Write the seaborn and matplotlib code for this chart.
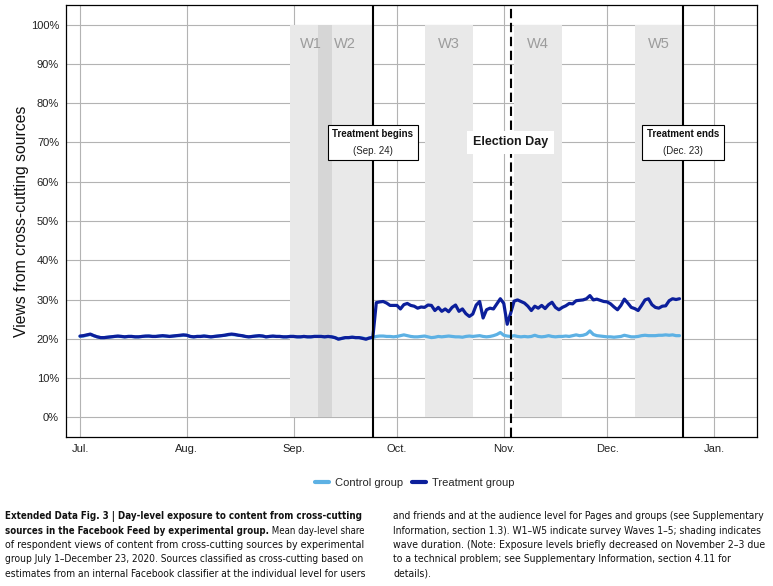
import numpy as np
import pandas as pd
import matplotlib
matplotlib.use("Agg")
import matplotlib.pyplot as plt
from matplotlib.lines import Line2D
from matplotlib.patches import Rectangle
from matplotlib.ticker import FuncFormatter
import seaborn as sns

# ---------------- data ----------------
start_date = "2020-07-01"

control = [
    20.6, 20.7, 20.9, 21.1, 20.8, 20.5, 20.3, 20.3, 20.4, 20.5,
    20.6, 20.6, 20.6, 20.5, 20.6, 20.6, 20.5, 20.5, 20.6, 20.6,
    20.7, 20.6, 20.6, 20.7, 20.7, 20.7, 20.6, 20.7, 20.8, 20.8,
    20.9, 20.9, 20.6, 20.5, 20.6, 20.6, 20.7, 20.6, 20.5, 20.6,
    20.7, 20.8, 20.9, 21.0, 21.1, 21.0, 20.9, 20.8, 20.6, 20.5,
    20.6, 20.7, 20.7, 20.7, 20.5, 20.6, 20.6, 20.6, 20.6, 20.5,
    20.5, 20.6, 20.6, 20.5, 20.5, 20.6, 20.5, 20.5, 20.6, 20.6,
    20.6, 20.5, 20.6, 20.5, 20.3, 20.0, 20.1, 20.3, 20.3, 20.4,
    20.3, 20.3, 20.2, 20.0, 20.2,
    20.3, 20.6, 20.7, 20.7, 20.6, 20.6, 20.5, 20.6, 20.8, 21.0,
    20.8, 20.6, 20.5, 20.5, 20.6, 20.7, 20.5, 20.3, 20.4, 20.6,
    20.5, 20.6, 20.7, 20.6, 20.5, 20.5, 20.4, 20.6, 20.7, 20.6,
    20.7, 20.8, 20.6, 20.5, 20.6, 20.8, 21.1, 21.6, 20.9, 20.7,
    20.6, 20.8, 20.6, 20.5, 20.6, 20.5, 20.6, 20.9, 20.6, 20.5,
    20.6, 20.8, 20.6, 20.5, 20.6, 20.6, 20.7, 20.6, 20.8, 21.0,
    20.8, 20.9, 21.2, 22.0, 21.1, 20.8, 20.7, 20.6, 20.5, 20.5,
    20.4, 20.5, 20.6, 20.9, 20.7, 20.5, 20.5, 20.6, 20.8, 20.9,
    20.8, 20.8, 20.8, 20.9, 20.9, 21.0, 20.9, 21.0, 20.8, 20.8,
]

treatment = [
    20.7, 20.8, 21.0, 21.2, 20.8, 20.5, 20.3, 20.3, 20.4, 20.5,
    20.6, 20.7, 20.6, 20.5, 20.6, 20.6, 20.5, 20.5, 20.6, 20.7,
    20.7, 20.6, 20.6, 20.7, 20.8, 20.7, 20.6, 20.7, 20.8, 20.9,
    21.0, 20.9, 20.6, 20.5, 20.6, 20.6, 20.7, 20.6, 20.5, 20.6,
    20.7, 20.8, 20.9, 21.1, 21.2, 21.1, 20.9, 20.8, 20.6, 20.5,
    20.6, 20.7, 20.8, 20.7, 20.5, 20.6, 20.7, 20.6, 20.6, 20.5,
    20.5, 20.6, 20.6, 20.5, 20.5, 20.6, 20.5, 20.5, 20.6, 20.6,
    20.6, 20.5, 20.6, 20.5, 20.3, 19.9, 20.1, 20.3, 20.3, 20.4,
    20.3, 20.3, 20.1, 19.9, 20.2,
    20.4, 29.2, 29.4, 29.5, 29.1, 28.5, 28.5, 28.5, 27.6, 28.7,
    29.0, 28.5, 28.3, 27.8, 28.1, 28.0, 28.6, 28.5, 27.2, 28.0,
    27.0, 27.6, 26.9, 28.0, 28.6, 27.0, 27.6, 26.4, 25.7, 26.3,
    28.6, 29.5, 25.3, 27.4, 27.8, 27.6, 28.9, 30.2, 29.0, 23.7,
    26.5, 29.6, 29.9, 29.5, 29.1, 28.3, 27.2, 28.3, 27.8, 28.5,
    27.7, 28.7, 29.3, 28.0, 27.4, 28.0, 28.4, 29.0, 28.9, 29.7,
    29.8, 29.9, 30.2, 31.0, 29.9, 30.1, 29.8, 29.5, 29.4, 28.9,
    28.1, 27.4, 28.5, 30.1, 29.1, 28.0, 27.7, 27.2, 28.5, 29.9,
    30.2, 28.7, 28.0, 27.8, 28.3, 28.4, 29.7, 30.2, 30.0, 30.2,
]

group_labels = ["Control group", "Treatment group"]
group_colors = ["#5db1e4", "#0c1f9b"]

wave_names = ["W1", "W2", "W3", "W4", "W5"]
wave_starts = ["2020-08-31", "2020-09-08", "2020-10-09", "2020-11-04", "2020-12-09"]
wave_ends = ["2020-09-12", "2020-09-24", "2020-10-23", "2020-11-18", "2020-12-23"]

treatment_begin = "2020-09-24"
election_day = "2020-11-03"
treatment_end = "2020-12-23"

month_ticks = ["2020-07-01", "2020-08-01", "2020-09-01", "2020-10-01",
               "2020-11-01", "2020-12-01", "2021-01-01"]
month_labels = ["Jul.", "Aug.", "Sep.", "Oct.", "Nov.", "Dec.", "Jan."]
y_ticks = [0, 10, 20, 30, 40, 50, 60, 70, 80, 90, 100]

caption_left = [
    "Extended Data Fig. 3 | Day-level exposure to content from cross-cutting",
    "sources in the Facebook Feed by experimental group.",
    "of respondent views of content from cross-cutting sources by experimental",
    "group July 1\u2013December 23, 2020. Sources classified as cross-cutting based on",
    "estimates from an internal Facebook classifier at the individual level for users",
]
caption_left_tail = " Mean day-level share"
caption_right = [
    "and friends and at the audience level for Pages and groups (see Supplementary",
    "Information, section 1.3). W1\u2013W5 indicate survey Waves 1\u20135; shading indicates",
    "wave duration. (Note: Exposure levels briefly decreased on November 2\u20133 due",
    "to a technical problem; see Supplementary Information, section 4.11 for",
    "details).",
]

# ---------------- figure ----------------
sns.set_style("white")
plt.rcParams["font.family"] = ["Liberation Sans", "DejaVu Sans"]

dates = pd.date_range(start_date, periods=len(control), freq="D")
df = pd.DataFrame({
    "date": list(dates) + list(dates),
    "value": control + treatment,
    "group": [group_labels[0]] * len(control) + [group_labels[1]] * len(treatment),
})

fig = plt.figure(figsize=(7.73, 5.86), dpi=100)
ax = fig.add_axes([0.0854, 0.2543, 0.8939, 0.7372])
ax.set_axisbelow(True)
ax.grid(True, color="#b3b3b3", linewidth=0.8)

# wave shading (opaque white first to hide grid, then translucent grey)
for s, e in zip(wave_starts, wave_ends):
    ax.fill_between([pd.Timestamp(s), pd.Timestamp(e)], 0, 100,
                    color="white", linewidth=0, zorder=1)
for s, e in zip(wave_starts, wave_ends):
    ax.fill_between([pd.Timestamp(s), pd.Timestamp(e)], 0, 100,
                    color="#6c6c6c", alpha=0.145, linewidth=0, zorder=1.2)
for n, s, e in zip(wave_names, wave_starts, wave_ends):
    mid = pd.Timestamp(s) + (pd.Timestamp(e) - pd.Timestamp(s)) / 2
    ax.text(mid, 95, n, ha="center", va="center", fontsize=10.5,
            color="#9c9c9c", zorder=2)

sns.lineplot(data=df, x="date", y="value", hue="group",
             palette=dict(zip(group_labels, group_colors)),
             linewidth=2.3, legend=False, ax=ax, zorder=3)

ax.axvline(pd.Timestamp(treatment_begin), color="black", lw=1.5, zorder=4)
ax.axvline(pd.Timestamp(treatment_end), color="black", lw=1.5, zorder=4)
ax.axvline(pd.Timestamp(election_day), color="black", lw=1.5,
           dashes=(4.5, 2.2), zorder=4)

box_pairs = []


def boxed(date, title, sub):
    d = pd.Timestamp(date)
    t1 = ax.annotate(title, (d, 70), xytext=(0, 6.4), textcoords="offset points",
                     ha="center", va="center", fontsize=7, fontweight="bold",
                     color="#111111", zorder=7)
    t2 = ax.annotate(sub, (d, 70), xytext=(0, -6.4), textcoords="offset points",
                     ha="center", va="center", fontsize=7, color="#222222", zorder=7)
    box_pairs.append((t1, t2))


boxed(treatment_begin, "Treatment begins", "(Sep. 24)")
boxed(treatment_end, "Treatment ends", "(Dec. 23)")
ax.text(pd.Timestamp(election_day), 70, "Election Day", ha="center", va="center",
        fontsize=9, fontweight="bold", color="#1a1a1a", zorder=6,
        bbox=dict(boxstyle="square,pad=0.45", fc="white", ec="none"))

# axes
ax.set_xlim(pd.Timestamp(start_date) - pd.Timedelta(days=4.06),
            pd.Timestamp(start_date) + pd.Timedelta(days=196.5))
ax.set_ylim(-5, 105)
ax.set_yticks(y_ticks)
ax.yaxis.set_major_formatter(FuncFormatter(lambda v, p: f"{v:.0f}%"))
ax.set_xticks([pd.Timestamp(t) for t in month_ticks])
ax.set_xticklabels(month_labels)
ax.set_xlabel("")
ax.set_ylabel("Views from cross-cutting sources", fontsize=11.3, color="#111111")
ax.yaxis.set_label_coords(-0.054, 0.5)
ax.tick_params(axis="both", length=3, width=0.8, color="#333333",
               labelsize=8, labelcolor="#222222", pad=2)
for sp in ax.spines.values():
    sp.set_visible(True)
    sp.set_color("black")
    sp.set_linewidth(0.9)

handles = [Line2D([0], [0], color=c, lw=3) for c in group_colors]
fig.legend(handles, group_labels, loc="center", bbox_to_anchor=(0.537, 0.176),
           ncol=2, frameon=False, fontsize=8, handlelength=1.2,
           handletextpad=0.6, columnspacing=0.8)

# caption
cap_family = ["DejaVu Sans"]
cap_size = 8.0
ys = [1 - y / 586 for y in (516, 530.5, 545, 559.5, 574)]
x_left = 5 / 773
x_right = 393 / 773
left_texts = []
tail = None
for i, (txt, y) in enumerate(zip(caption_left, ys)):
    bold = i < 2
    t = fig.text(x_left, y, txt, ha="left", va="center", fontsize=cap_size,
                 family=cap_family, fontstretch="condensed",
                 fontweight="bold" if bold else "normal", color="#111111")
    left_texts.append(t)
    if i == 1:
        tail = fig.text(0, 0, caption_left_tail, ha="left", va="bottom",
                        fontsize=cap_size, family=cap_family,
                        fontstretch="condensed", color="#111111")
right_texts = []
for txt, y in zip(caption_right, ys):
    right_texts.append(fig.text(x_right, y, txt, ha="left", va="center",
                                fontsize=cap_size, family=cap_family,
                                fontstretch="condensed", color="#111111"))

# fit each caption line to its width in the reference
fig.canvas.draw()
r = fig.canvas.get_renderer()
inv = fig.transFigure.inverted()


def width_of(ts):
    return sum(t.get_window_extent(r).width for t in ts)


left_target = 357
right_target = 369
for i, t in enumerate(left_texts):
    group = [t, tail] if i == 1 else [t]
    s = cap_size * left_target / width_of(group)
    for g in group:
        g.set_fontsize(s)
right_sizes = []
for i, t in enumerate(right_texts[:3]):
    s = cap_size * right_target / width_of([t])
    t.set_fontsize(s)
    right_sizes.append(s)
for t in right_texts[3:]:
    t.set_fontsize(sum(right_sizes) / len(right_sizes))

fig.canvas.draw()
bb = left_texts[1].get_window_extent(r)
x1, y0 = inv.transform((bb.x1, bb.y0))
tail.set_position((x1, y0))

# boxes around the treatment annotations
fig.canvas.draw()
for t1, t2 in box_pairs:
    b1 = t1.get_window_extent(r)
    b2 = t2.get_window_extent(r)
    padx, pady = 4.5, 4.0
    xa, xb = min(b1.x0, b2.x0) - padx, max(b1.x1, b2.x1) + padx
    ya, yb = min(b1.y0, b2.y0) - pady, max(b1.y1, b2.y1) + pady
    fx0, fy0 = inv.transform((xa, ya))
    fx1, fy1 = inv.transform((xb, yb))
    rect = Rectangle((fx0, fy0), fx1 - fx0, fy1 - fy0,
                     transform=fig.transFigure, facecolor="white",
                     edgecolor="black", linewidth=0.8, zorder=6, clip_on=False)
    ax.add_artist(rect)

fig.savefig("out.png", dpi=100)
